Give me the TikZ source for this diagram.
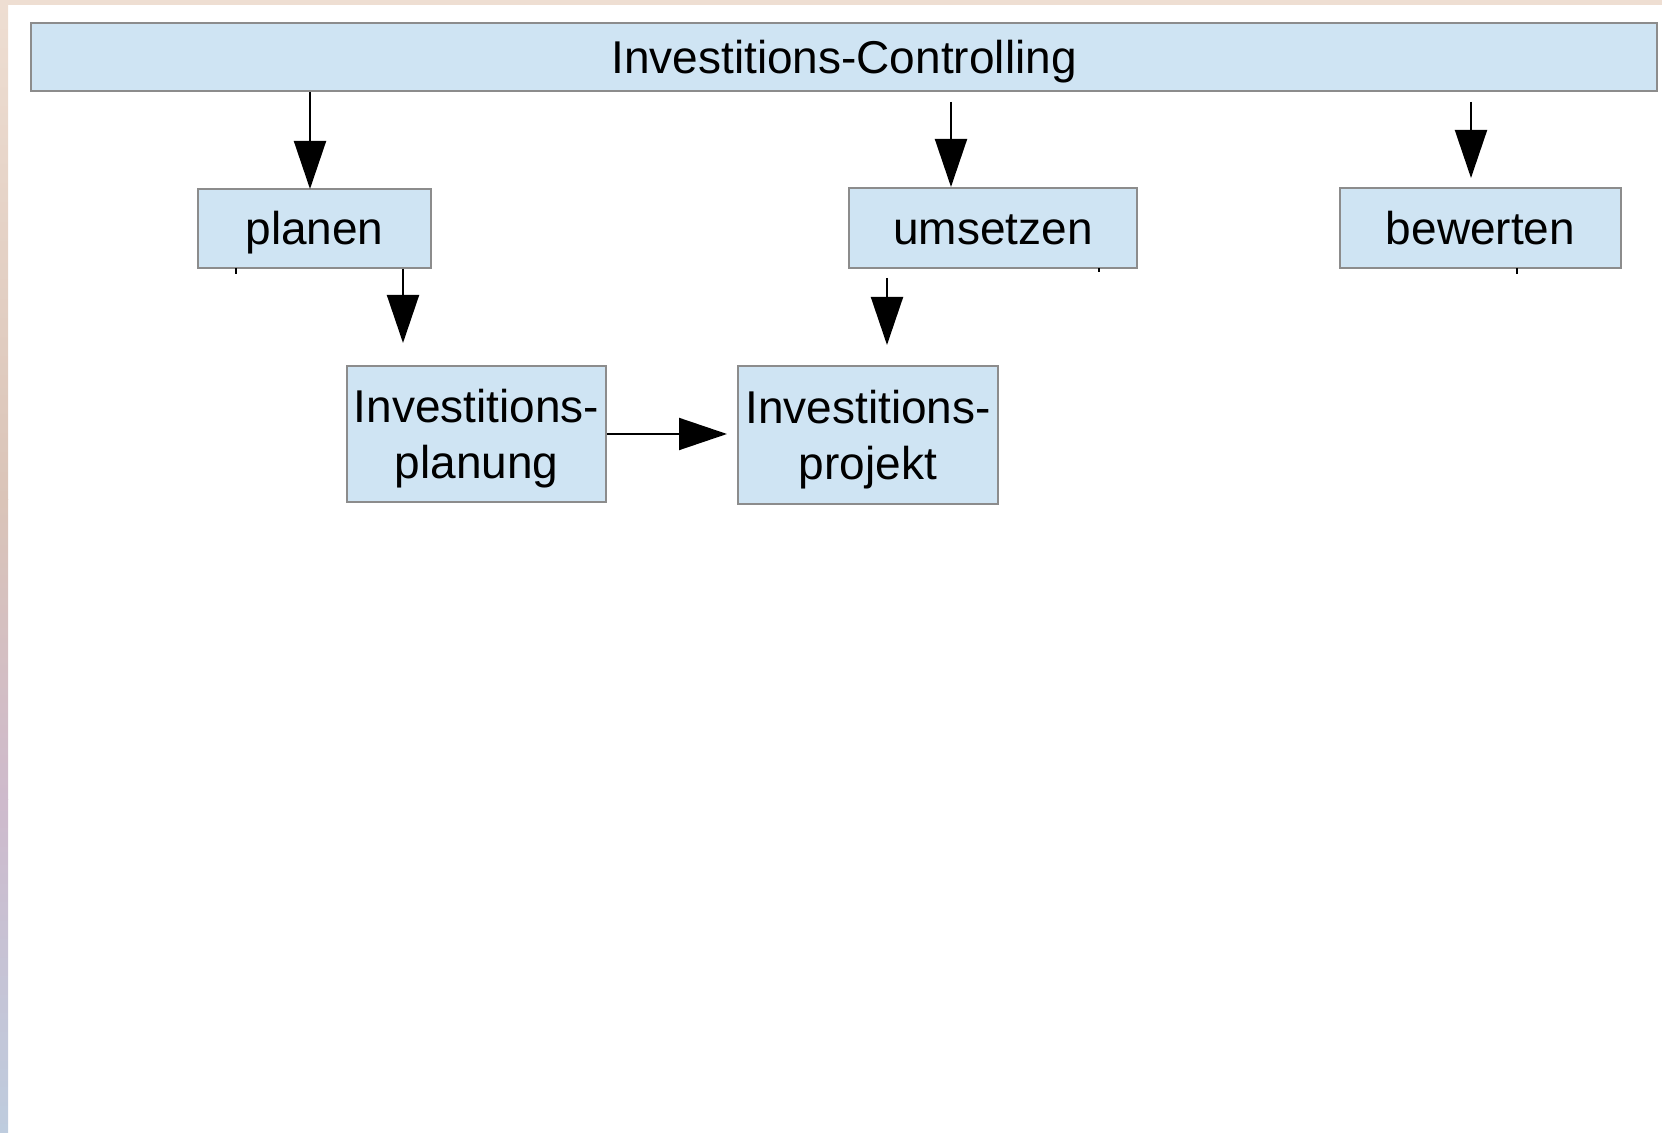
\documentclass[tikz,border=0pt]{standalone}
\usepackage{fontspec}
\setmainfont{Liberation Sans}
\usetikzlibrary{arrows.meta}

\definecolor{boxblue}{RGB}{207,228,243}
\definecolor{boxgray}{RGB}{140,140,140}
\definecolor{bandpeach}{RGB}{238,222,210}
\definecolor{bandtan}{RGB}{218,196,184}
\definecolor{bandmauve}{RGB}{206,186,204}
\definecolor{bandblue}{RGB}{190,204,222}

\tikzset{
  stepbox/.style={draw=boxgray, fill=boxblue, line width=1pt, inner sep=0pt,
    align=center, font=\fontsize{23}{28}\selectfont, text depth=0pt},
  onebox/.style={stepbox, text height=16.5pt},
  flow/.style={line width=1pt, -{Triangle[length=24pt,width=16pt]}},
}

\begin{document}
\begin{tikzpicture}[x=0.5pt,y=-0.5pt]
\useasboundingbox (0,0) rectangle (1662,1133);
% page edge
\fill[bandpeach] (0,0) rectangle (1662,5);
\shade[top color=bandpeach, bottom color=bandtan] (0,0) rectangle (8,500);
\shade[top color=bandtan, bottom color=bandmauve] (0,500) rectangle (8,800);
\shade[top color=bandmauve, bottom color=bandblue] (0,800) rectangle (8,1133);

\node[onebox, minimum width=813pt, minimum height=34pt] (ic) at (844,57) {Investitions-Controlling};
\node[onebox, minimum width=116.5pt, minimum height=39.5pt] (planen) at (314.5,228.5) {planen};
\node[onebox, minimum width=144pt, minimum height=40pt] (umsetzen) at (993,228) {umsetzen};
\node[onebox, minimum width=140.5pt, minimum height=40pt] (bewerten) at (1480.5,228) {bewerten};
\node[stepbox, minimum width=129.5pt, minimum height=68pt] (planung) at (476.5,434) {Investitions-\\planung};
\node[stepbox, minimum width=130pt, minimum height=69pt] (projekt) at (868,435) {Investitions-\\projekt};

\coordinate (c0) at (310,189);
\coordinate (u0) at (951,102);
\coordinate (b0) at (1471,102);
\coordinate (b1) at (1471,178);
\coordinate (p0) at (403,343);
\coordinate (j0) at (887,278);
\coordinate (j1) at (887,345);
\coordinate (h1) at (727,434);

\draw[flow] (ic.south -| c0) -- (c0);
\draw[flow] (u0) -- (u0 |- umsetzen.north);
\draw[flow] (b0) -- (b1);
\draw[flow] (planen.south -| p0) -- (p0);
\draw[flow] (j0) -- (j1);
\draw[flow] (planung.east) -- (h1);

% small ticks under the boxes
\draw[line width=0.8pt] (236,268) -- (236,274);
\draw[line width=0.8pt] (1099,268) -- (1099,272);
\draw[line width=0.8pt] (1517,268) -- (1517,274);
\end{tikzpicture}
\end{document}
